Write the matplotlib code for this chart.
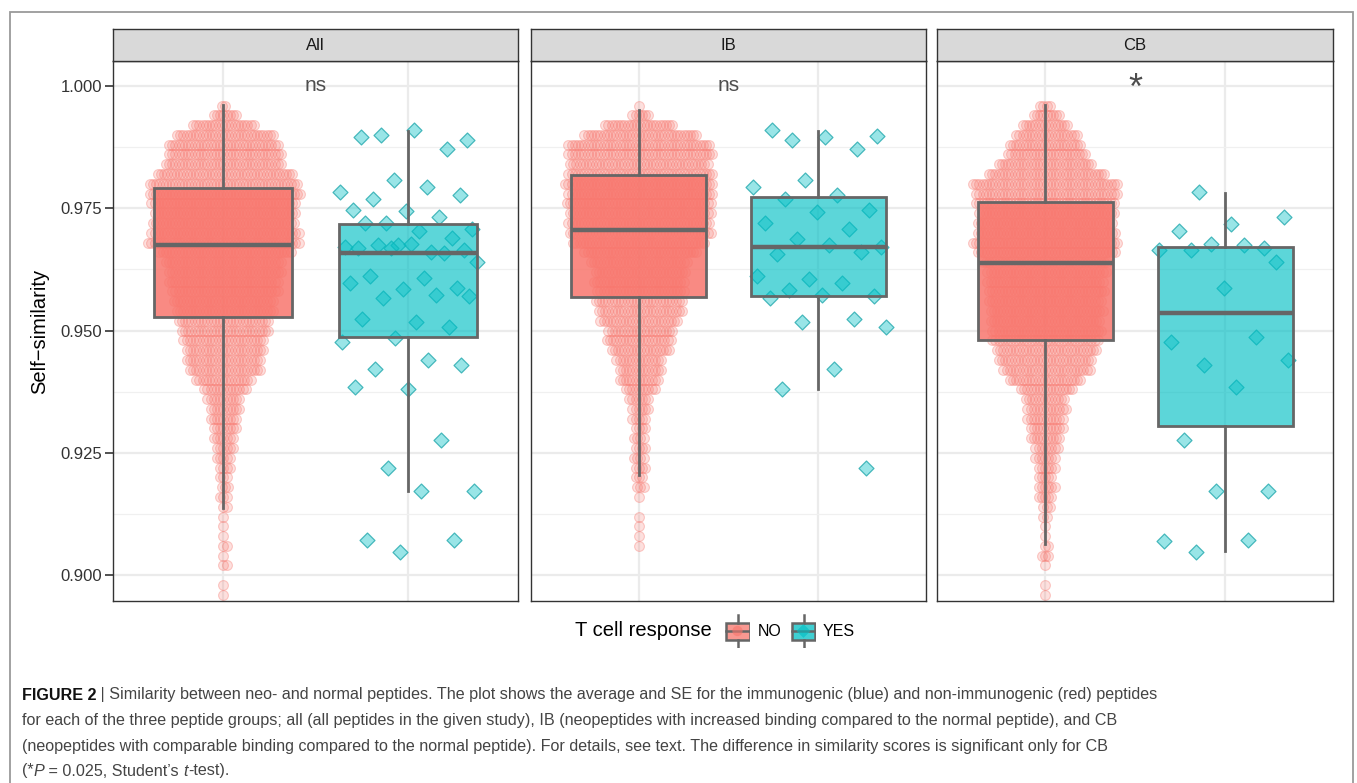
import numpy as np
import matplotlib
matplotlib.use('Agg')
import matplotlib.pyplot as plt
from matplotlib.patches import Rectangle
from matplotlib.text import Annotation
from matplotlib import font_manager

plt.rcParams['font.family'] = ['Liberation Sans', 'DejaVu Sans']

W, H = 1357, 783

# ---- data ----
panels = ['All', 'IB', 'CB']
signif = ['ns', 'ns', '*']

# NO group (non-immunogenic): peptides per 0.002-wide row, rows centred 0.996 down to 0.896
row_centres = np.round(0.996 - 0.002 * np.arange(51), 3)
no_all = [2, 8, 20, 31, 35, 36, 37, 43, 47, 48,
          46, 45, 45, 47, 48, 42, 37, 36, 35, 34,
          32, 31, 29, 28, 26, 25, 24, 23, 18, 14,
          11, 10, 9, 8, 7, 6, 5, 4, 3, 3,
          3, 2, 1, 1, 1, 2, 1, 2, 0, 1,
          1]
no_ib = [1, 6, 22, 36, 45, 46, 44, 46, 47, 46,
         46, 45, 45, 45, 42, 36, 31, 29, 29, 28,
         28, 27, 25, 21, 21, 19, 15, 14, 13, 10,
         7, 6, 5, 4, 4, 4, 4, 4, 3, 3,
         1, 0, 1, 1, 1, 1, 0, 0, 0, 0,
         0]
no_cb = [4, 9, 15, 20, 23, 25, 30, 37, 46, 45,
         44, 43, 43, 44, 46, 44, 40, 38, 37, 37,
         36, 36, 35, 35, 34, 32, 30, 28, 23, 17,
         13, 13, 12, 11, 10, 8, 7, 6, 5, 6,
         5, 3, 2, 1, 1, 2, 3, 1, 0, 1,
         1]

# YES group (immunogenic): individual similarity scores
yes_all = [0.9900, 0.9890, 0.9910, 0.9895, 0.9871, 0.9808, 0.9783, 0.9793, 0.9768,
           0.9777, 0.9745, 0.9747, 0.9733, 0.9719, 0.9707, 0.9704, 0.9719, 0.9689,
           0.9674, 0.9670, 0.9661, 0.9674, 0.9665, 0.9678, 0.9668, 0.9658, 0.9668,
           0.9640, 0.9607, 0.9612, 0.9587, 0.9585, 0.9598, 0.9572, 0.9567, 0.9571,
           0.9518, 0.9524, 0.9508, 0.9484, 0.9477, 0.9440, 0.9421, 0.9430, 0.9381,
           0.9385, 0.9277, 0.9220, 0.9173, 0.9173, 0.9071, 0.9073, 0.9048]
yes_ib = [0.9890, 0.9898, 0.9895, 0.9910, 0.9871, 0.9808, 0.9793, 0.9777, 0.9768,
          0.9746, 0.9743, 0.9719, 0.9708, 0.9688, 0.9670, 0.9674, 0.9657, 0.9660,
          0.9606, 0.9612, 0.9598, 0.9583, 0.9571, 0.9572, 0.9567, 0.9523, 0.9518,
          0.9507, 0.9422, 0.9381, 0.9220]
yes_cb = [0.9783, 0.9732, 0.9718, 0.9704, 0.9668, 0.9678, 0.9664, 0.9675, 0.9665,
          0.9640, 0.9587, 0.9477, 0.9486, 0.9430, 0.9440, 0.9385, 0.9277, 0.9173,
          0.9173, 0.9070, 0.9073, 0.9048]

# box statistics (whislo, q1, median, q3, whishi)
box_no = [(0.9137, 0.9528, 0.9674, 0.9791, 0.9961),
          (0.9204, 0.9568, 0.9706, 0.9818, 0.9951),
          (0.9064, 0.9481, 0.9638, 0.9762, 0.9961)]
box_yes = [(0.9173, 0.9486, 0.9658, 0.9718, 0.9908),
           (0.9381, 0.9571, 0.9670, 0.9773, 0.9908),
           (0.9050, 0.9304, 0.9536, 0.9671, 0.9782)]

y_ticks = [0.900, 0.925, 0.950, 0.975, 1.000]

caption = [
    [('FIGURE 2', 'bold', 'normal'),
     (' | Similarity between neo- and normal peptides. The plot shows the average and SE for the '
      'immunogenic (blue) and non-immunogenic (red) peptides', 'normal', 'normal')],
    [('for each of the three peptide groups; all (all peptides in the given study), IB (neopeptides '
      'with increased binding compared to the normal peptide), and CB', 'normal', 'normal')],
    [('(neopeptides with comparable binding compared to the normal peptide). For details, see text. '
      'The difference in similarity scores is significant only for CB', 'normal', 'normal')],
    [('(*', 'normal', 'normal'), ('P', 'normal', 'italic'),
     (' = 0.025, Student\u2019s ', 'normal', 'normal'), ('t', 'normal', 'italic'),
     ('-test).', 'normal', 'normal')],
]

RED = '#F8766D'
TEAL = '#00BFC4'
EDGE = '#666666'


def rect(x0, y0, x1, y1):
    return [x0 / W, 1 - y1 / H, (x1 - x0) / W, (y1 - y0) / H]


def to_rgba(hexcol, a):
    r, g, b = matplotlib.colors.to_rgb(hexcol)
    return (r, g, b, a)


fig = plt.figure(figsize=(W / 100, H / 100), dpi=100)

panel_px = [(113, 518), (531, 926), (937, 1333)]
top_px, bot_px, strip_px = 61, 601, 29
ylim = (0.89473, 1.00511)

no_counts = [no_all, no_ib, no_cb]
yes_vals = [yes_all, yes_ib, yes_cb]

for i, name in enumerate(panels):
    x0, x1 = panel_px[i]
    ax = fig.add_axes(rect(x0, top_px, x1, bot_px))
    ax.set_xlim(0.4, 2.6)
    ax.set_ylim(*ylim)
    unit_px = (x1 - x0) / 2.2

    # grid
    ax.set_yticks(y_ticks)
    ax.set_yticks([0.9125, 0.9375, 0.9625, 0.9875], minor=True)
    ax.set_xticks([1, 2])
    ax.grid(True, which='major', color='#EBEBEB', lw=1.6, zorder=0)
    ax.grid(True, which='minor', axis='y', color='#F0F0F0', lw=0.9, zorder=0)
    ax.set_axisbelow(True)
    ax.tick_params(axis='x', which='both', length=0, labelbottom=False)
    ax.tick_params(axis='y', which='minor', length=0)
    if i == 0:
        ax.set_yticklabels([f'{v:.3f}' for v in y_ticks])
        ax.tick_params(axis='y', which='major', length=6, width=1.2, color='#333333',
                       labelsize=12, labelcolor='#333333', pad=2)
    else:
        ax.tick_params(axis='y', which='major', length=0, labelleft=False)
    for sp in ax.spines.values():
        sp.set_color('#333333')
        sp.set_linewidth(1.0)

    # NO beeswarm: each row centred on x = 1, alternate rows staggered by half a step
    spacing = 3.2 / unit_px
    xs, ys = [], []
    for r, (yc, n) in enumerate(zip(row_centres, no_counts[i])):
        if n == 0:
            continue
        shift = 0.5 * spacing if (r % 2 and n > 1) else 0.0
        offs = (np.arange(n) - (n - 1) / 2.0) * spacing + shift
        xs.extend(1 + offs)
        ys.extend([yc] * n)
    ax.scatter(xs, ys, s=50, marker='o', facecolor=to_rgba(RED, 0.22),
               edgecolor=to_rgba(RED, 0.36), linewidth=0.8, zorder=2)

    # YES jittered diamonds
    yv = np.array(yes_vals[i])
    k = np.arange(len(yv))
    jit = ((k * 0.6180339887 + 0.31) % 1.0 - 0.5) * 0.76
    ax.scatter(2 + jit, yv, s=58, marker='D', facecolor=to_rgba(TEAL, 0.40),
               edgecolor=to_rgba('#1AA5AA', 0.75), linewidth=0.9, zorder=2)

    # boxes
    stats = []
    for st in (box_no[i], box_yes[i]):
        stats.append(dict(whislo=st[0], q1=st[1], med=st[2], q3=st[3], whishi=st[4], fliers=[]))
    bp = ax.bxp(stats, positions=[1, 2], widths=0.75, patch_artist=True, showfliers=False,
                showcaps=False, manage_ticks=False,
                boxprops=dict(edgecolor=EDGE, linewidth=2.0),
                whiskerprops=dict(color=EDGE, linewidth=2.0),
                medianprops=dict(color=EDGE, linewidth=3.2))
    bp['boxes'][0].set_facecolor(to_rgba(RED, 0.85))
    bp['boxes'][1].set_facecolor(to_rgba(TEAL, 0.64))
    for art in bp['boxes'] + bp['whiskers'] + bp['medians']:
        art.set_zorder(3)

    # significance label
    if signif[i] == '*':
        ax.text(1.5, 0.9992, '*', ha='center', va='center', fontsize=26, color='#4D4D4D')
    else:
        ax.text(1.5, 1.000, signif[i], ha='center', va='center', fontsize=15, color='#4D4D4D')

    # strip
    sax = fig.add_axes(rect(x0, strip_px, x1, top_px))
    sax.set_facecolor('#D9D9D9')
    sax.set_xticks([])
    sax.set_yticks([])
    for sp in sax.spines.values():
        sp.set_color('#333333')
        sp.set_linewidth(1.0)
    sax.text(0.5, 0.5, name, ha='center', va='center', fontsize=12, color='#1A1A1A',
             transform=sax.transAxes)

# y label
fig.text(40 / W, 1 - 331 / H, 'Self\u2212similarity', rotation=90, fontsize=14.5,
         ha='center', va='center', color='black')

# legend
ly = 1 - 631 / H
fig.text(575 / W, ly, 'T cell response', fontsize=14.5, ha='left', va='center')
for (kx, col, mk, lab, tx) in [(725, RED, 'o', 'NO', 758), (791, TEAL, 'D', 'YES', 823)]:
    kax = fig.add_axes(rect(kx, 614, kx + 25, 648))
    kax.set_xlim(0, 1)
    kax.set_ylim(0, 1)
    kax.axis('off')
    kax.plot([0.5, 0.5], [0.02, 0.25], color=EDGE, lw=1.8)
    kax.plot([0.5, 0.5], [0.75, 0.98], color=EDGE, lw=1.8)
    kax.add_patch(Rectangle((0.02, 0.25), 0.96, 0.5, facecolor=to_rgba(col, 0.75),
                            edgecolor=EDGE, lw=1.8))
    kax.scatter([0.5], [0.5], s=55 if mk == 'o' else 50, marker=mk,
                facecolor=to_rgba(col, 0.6), edgecolor='none', zorder=3)
    kax.plot([0.02, 0.98], [0.5, 0.5], color=EDGE, lw=1.8)
    fig.text(tx / W, ly, lab, fontsize=11.5, ha='left', va='center')

# caption
names = {f.name for f in font_manager.fontManager.ttflist}
cap_font = 'Liberation Sans Narrow' if 'Liberation Sans Narrow' in names else 'Liberation Sans'
renderer = fig.canvas.get_renderer()
probe = fig.text(0, 0, ''.join(p[0] for p in caption[0]), fontsize=10, family=cap_font)
probe_w = probe.get_window_extent(renderer).width
probe.remove()
cap_size = 10 * 1135.0 / probe_w

cap_y = [695, 720, 746, 771]
for line, ypx in zip(caption, cap_y):
    prev = None
    for txt, weight, style in line:
        col = '#111111' if weight == 'bold' else '#444444'
        if prev is None:
            prev = fig.text(22 / W, 1 - ypx / H, txt, fontsize=cap_size, family=cap_font,
                            fontweight=weight, fontstyle=style, color=col,
                            ha='left', va='center')
        else:
            ann = Annotation(txt, xy=(1, 0.5), xycoords=prev, ha='left', va='center',
                             fontsize=cap_size, family=cap_font, fontweight=weight,
                             fontstyle=style, color=col)
            fig.add_artist(ann)
            prev = ann

# outer frame
fig.add_artist(Rectangle((9.5 / W, -0.05), (1353 - 9.5) / W, 1.05 - 11.5 / H,
                         transform=fig.transFigure, fill=False, edgecolor='#9A9A9A', lw=1.3))

fig.savefig('out.png', dpi=100)
